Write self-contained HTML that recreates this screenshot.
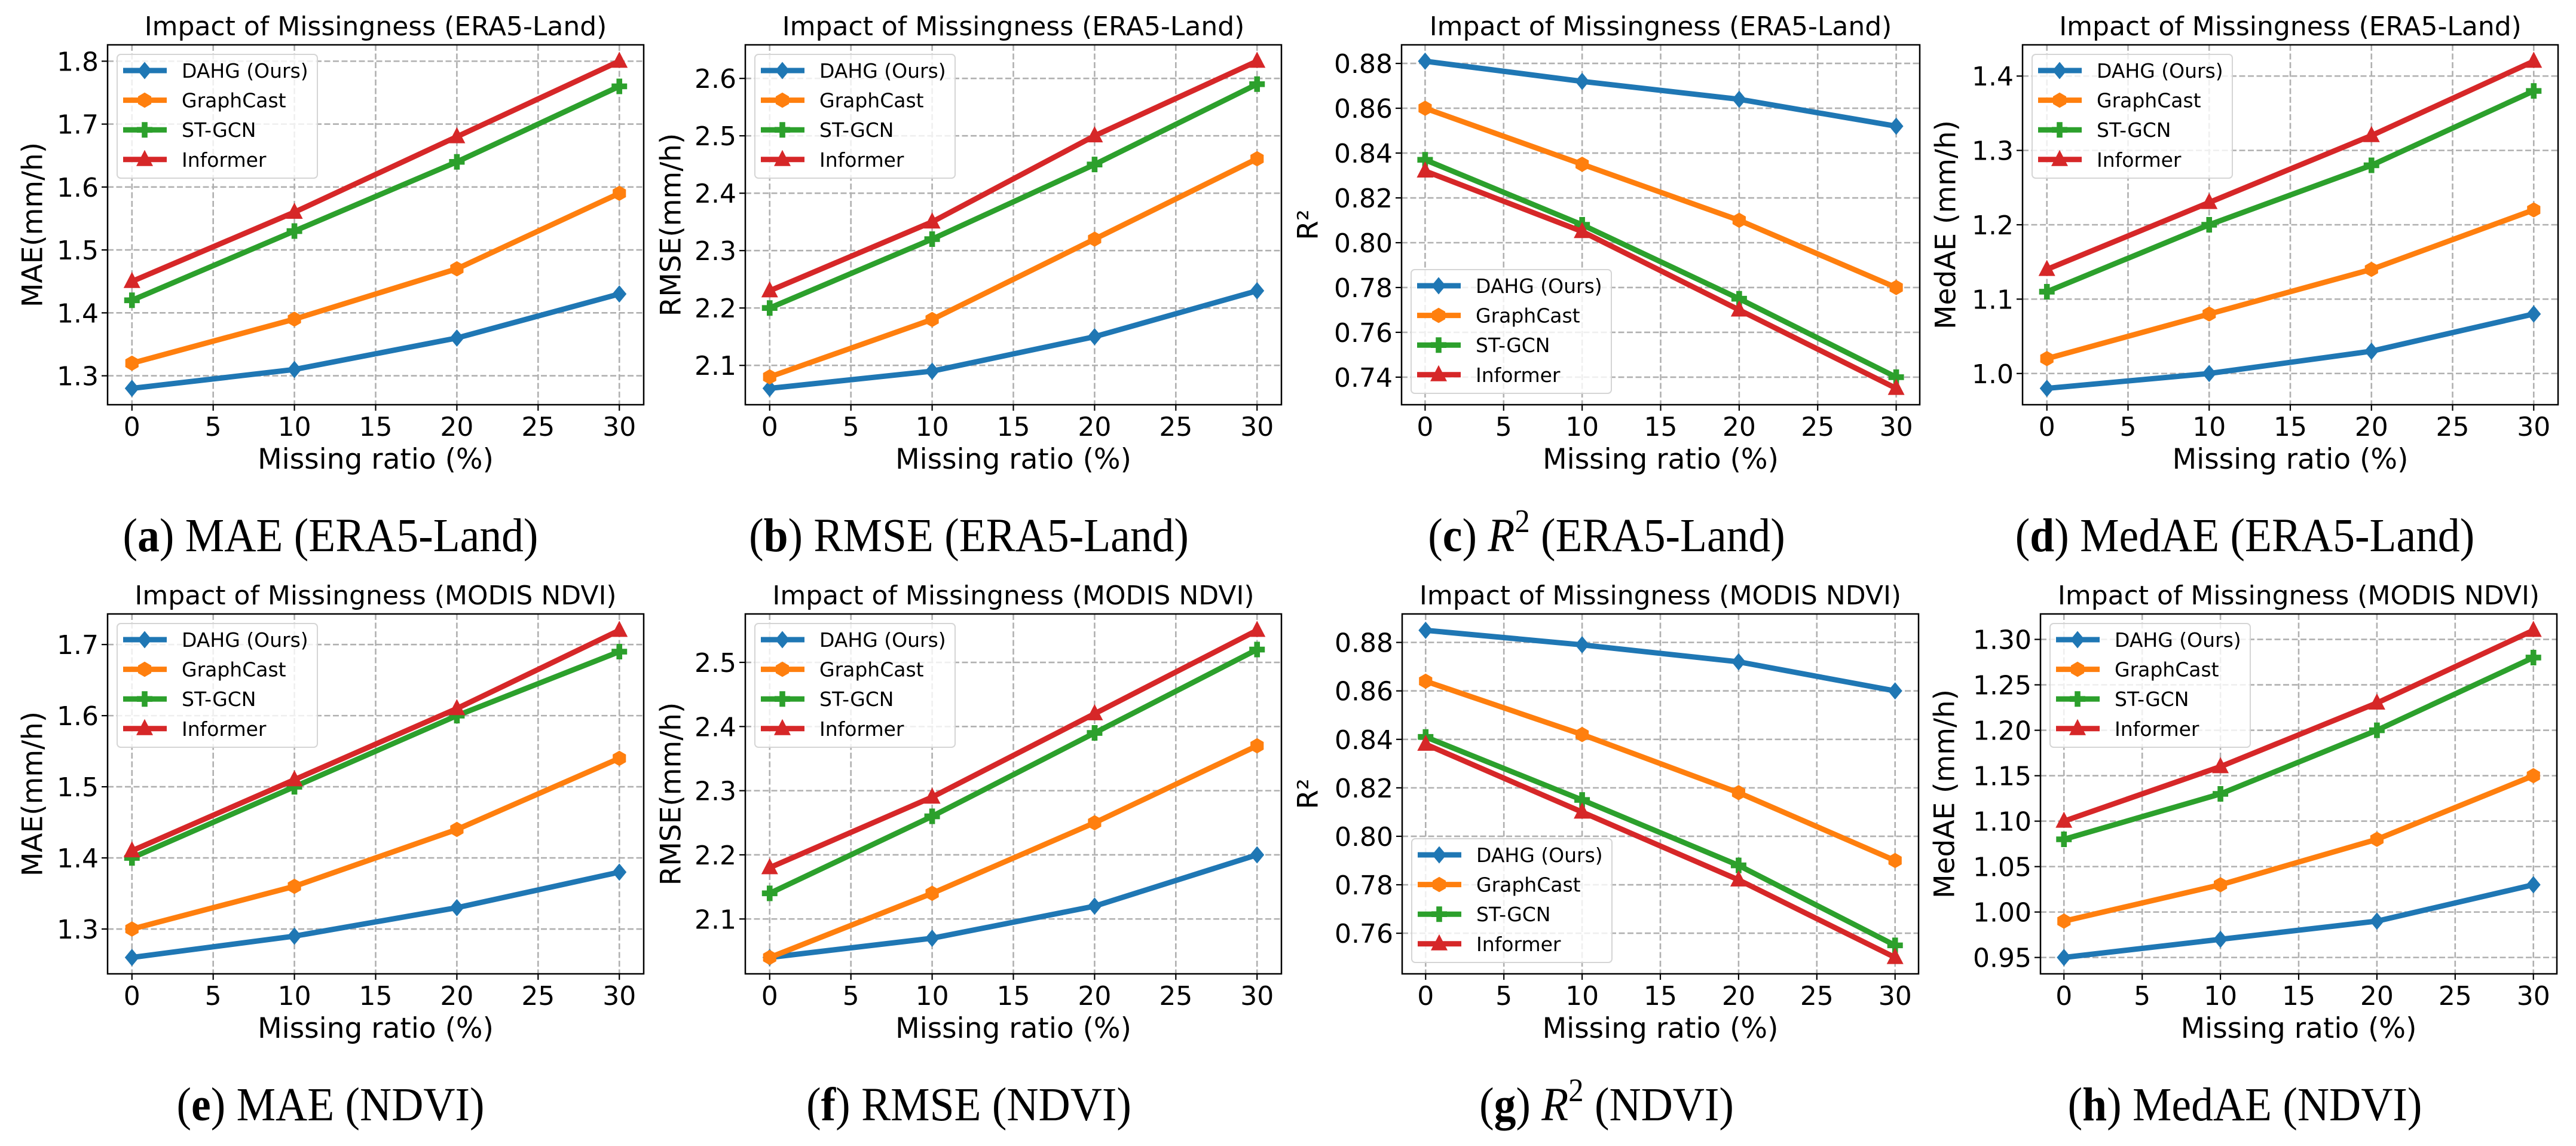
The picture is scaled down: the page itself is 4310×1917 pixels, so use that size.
<!DOCTYPE html>
<html><head><meta charset="utf-8">
<style>
html,body{margin:0;padding:0;background:#fff;}
svg{display:block;}
.t{font-family:"DejaVu Sans","Liberation Sans",sans-serif;fill:#000;}
.cap{font-family:"Liberation Serif","DejaVu Serif",serif;fill:#000;}
</style></head>
<body>
<svg id="fig" width="4310" height="1917" viewBox="0 0 4310 1917" xmlns="http://www.w3.org/2000/svg"></svg>
<script>
// ---- data ----
const xValues = [0, 10, 20, 30];
const xTicks = [0, 5, 10, 15, 20, 25, 30];
const seriesNames = ["DAHG (Ours)", "GraphCast", "ST-GCN", "Informer"];

const maeEraDahg = [1.28, 1.31, 1.36, 1.43];
const maeEraGraphCast = [1.32, 1.39, 1.47, 1.59];
const maeEraStgcn = [1.42, 1.53, 1.64, 1.76];
const maeEraInformer = [1.45, 1.56, 1.68, 1.80];
const maeEraTicks = [1.3, 1.4, 1.5, 1.6, 1.7, 1.8];

const rmseEraDahg = [2.06, 2.09, 2.15, 2.23];
const rmseEraGraphCast = [2.08, 2.18, 2.32, 2.46];
const rmseEraStgcn = [2.20, 2.32, 2.45, 2.59];
const rmseEraInformer = [2.23, 2.35, 2.50, 2.63];
const rmseEraTicks = [2.1, 2.2, 2.3, 2.4, 2.5, 2.6];

const r2EraDahg = [0.881, 0.872, 0.864, 0.852];
const r2EraGraphCast = [0.860, 0.835, 0.810, 0.780];
const r2EraStgcn = [0.837, 0.808, 0.775, 0.740];
const r2EraInformer = [0.832, 0.805, 0.770, 0.735];
const r2EraTicks = [0.74, 0.76, 0.78, 0.80, 0.82, 0.84, 0.86, 0.88];

const medEraDahg = [0.98, 1.00, 1.03, 1.08];
const medEraGraphCast = [1.02, 1.08, 1.14, 1.22];
const medEraStgcn = [1.11, 1.20, 1.28, 1.38];
const medEraInformer = [1.14, 1.23, 1.32, 1.42];
const medEraTicks = [1.0, 1.1, 1.2, 1.3, 1.4];

const maeNdviDahg = [1.26, 1.29, 1.33, 1.38];
const maeNdviGraphCast = [1.30, 1.36, 1.44, 1.54];
const maeNdviStgcn = [1.40, 1.50, 1.60, 1.69];
const maeNdviInformer = [1.41, 1.51, 1.61, 1.72];
const maeNdviTicks = [1.3, 1.4, 1.5, 1.6, 1.7];

const rmseNdviDahg = [2.04, 2.07, 2.12, 2.20];
const rmseNdviGraphCast = [2.04, 2.14, 2.25, 2.37];
const rmseNdviStgcn = [2.14, 2.26, 2.39, 2.52];
const rmseNdviInformer = [2.18, 2.29, 2.42, 2.55];
const rmseNdviTicks = [2.1, 2.2, 2.3, 2.4, 2.5];

const r2NdviDahg = [0.885, 0.879, 0.872, 0.860];
const r2NdviGraphCast = [0.864, 0.842, 0.818, 0.790];
const r2NdviStgcn = [0.841, 0.815, 0.788, 0.755];
const r2NdviInformer = [0.838, 0.810, 0.782, 0.750];
const r2NdviTicks = [0.76, 0.78, 0.80, 0.82, 0.84, 0.86, 0.88];

const medNdviDahg = [0.95, 0.97, 0.99, 1.03];
const medNdviGraphCast = [0.99, 1.03, 1.08, 1.15];
const medNdviStgcn = [1.08, 1.13, 1.20, 1.28];
const medNdviInformer = [1.10, 1.16, 1.23, 1.31];
const medNdviTicks = [0.95, 1.00, 1.05, 1.10, 1.15, 1.20, 1.25, 1.30];

// ---- layout (not data) ----
const colors = ["#1f77b4", "#ff7f0e", "#2ca02c", "#d62728"];
const markers = ["diamond", "hexagon", "plus", "triangle"];
const NS = "http://www.w3.org/2000/svg";
const svg = document.getElementById("fig");

const panels = [
 {id:"a", row:0, L:180, R:1077, ylab:"MAE(mm/h)", ylx:55, title:"Impact of Missingness (ERA5-Land)", series:[maeEraDahg,maeEraGraphCast,maeEraStgcn,maeEraInformer], ticks:maeEraTicks, dec:1, leg:"ul", cap:["a"," MAE (ERA5-Land)"], capx:553},
 {id:"b", row:0, L:1247, R:2144, ylab:"RMSE(mm/h)", ylx:1123, title:"Impact of Missingness (ERA5-Land)", series:[rmseEraDahg,rmseEraGraphCast,rmseEraStgcn,rmseEraInformer], ticks:rmseEraTicks, dec:1, leg:"ul", cap:["b"," RMSE (ERA5-Land)"], capx:1621},
 {id:"c", row:0, L:2345, R:3212, ylab:"R²", ylx:2189, title:"Impact of Missingness (ERA5-Land)", series:[r2EraDahg,r2EraGraphCast,r2EraStgcn,r2EraInformer], ticks:r2EraTicks, dec:2, leg:"ll", cap:["c","R2"," (ERA5-Land)"], capx:2688},
 {id:"d", row:0, L:3384, R:4280, ylab:"MedAE (mm/h)", ylx:3256, title:"Impact of Missingness (ERA5-Land)", series:[medEraDahg,medEraGraphCast,medEraStgcn,medEraInformer], ticks:medEraTicks, dec:1, leg:"ul", cap:["d"," MedAE (ERA5-Land)"], capx:3756},
 {id:"e", row:1, L:180, R:1077, ylab:"MAE(mm/h)", ylx:55, title:"Impact of Missingness (MODIS NDVI)", series:[maeNdviDahg,maeNdviGraphCast,maeNdviStgcn,maeNdviInformer], ticks:maeNdviTicks, dec:1, leg:"ul", cap:["e"," MAE (NDVI)"], capx:553},
 {id:"f", row:1, L:1247, R:2144, ylab:"RMSE(mm/h)", ylx:1123, title:"Impact of Missingness (MODIS NDVI)", series:[rmseNdviDahg,rmseNdviGraphCast,rmseNdviStgcn,rmseNdviInformer], ticks:rmseNdviTicks, dec:1, leg:"ul", cap:["f"," RMSE (NDVI)"], capx:1621},
 {id:"g", row:1, L:2346, R:3210, ylab:"R²", ylx:2189, title:"Impact of Missingness (MODIS NDVI)", series:[r2NdviDahg,r2NdviGraphCast,r2NdviStgcn,r2NdviInformer], ticks:r2NdviTicks, dec:2, leg:"ll", cap:["g","R2"," (NDVI)"], capx:2688},
 {id:"h", row:1, L:3414, R:4278, ylab:"MedAE (mm/h)", ylx:3254, title:"Impact of Missingness (MODIS NDVI)", series:[medNdviDahg,medNdviGraphCast,medNdviStgcn,medNdviInformer], ticks:medNdviTicks, dec:2, leg:"ul", cap:["h"," MedAE (NDVI)"], capx:3756}
];

function el(tag, attrs, parent){
  const e = document.createElementNS(NS, tag);
  for (const k in attrs) e.setAttribute(k, attrs[k]);
  (parent||svg).appendChild(e);
  return e;
}

function drawMarker(g, kind, cx, cy, color){
  let m;
  if (kind==="diamond"){
    m = el("polygon",{points:`${cx},${cy-14.5} ${cx+12},${cy} ${cx},${cy+14.5} ${cx-12},${cy}`, fill:color}, g);
  } else if (kind==="hexagon"){
    let p=[]; for(let i=0;i<6;i++){const a=Math.PI/6+i*Math.PI/3; p.push((cx+12.8*Math.cos(a))+","+(cy+12.8*Math.sin(a)));}
    m = el("polygon",{points:p.join(" "), fill:color}, g);
  } else if (kind==="plus"){
    const w=4.8, r=13;
    m = el("polygon",{points:`${cx-w},${cy-r} ${cx+w},${cy-r} ${cx+w},${cy-w} ${cx+r},${cy-w} ${cx+r},${cy+w} ${cx+w},${cy+w} ${cx+w},${cy+r} ${cx-w},${cy+r} ${cx-w},${cy+w} ${cx-r},${cy+w} ${cx-r},${cy-w} ${cx-w},${cy-w}`, fill:color}, g);
  } else {
    m = el("polygon",{points:`${cx},${cy-16} ${cx+14},${cy+11} ${cx-14},${cy+11}`, fill:color}, g);
  }
  return m;
}

panels.forEach(p=>{
  const off = p.row*952;
  const T = 75+off, B = 677+off;
  const g = el("g",{});
  
  

  let mn=Infinity,mx=-Infinity;
  p.series.forEach(s=>s.forEach(v=>{mn=Math.min(mn,v);mx=Math.max(mx,v);}));
  const pad=(mx-mn)*0.05; const y0=mn-pad, y1=mx+pad;
  const xs = v => p.L + (v+1.5)/33*(p.R-p.L);
  const ys = v => B - (v-y0)/(y1-y0)*(B-T);

  xTicks.forEach(t=>{
    const ln = el("line",{x1:xs(t),x2:xs(t),y1:T,y2:B,stroke:"#b0b0b0","stroke-width":2.6,"stroke-dasharray":"10,4.5"},g);
    
    
  });
  p.ticks.forEach(t=>{
    const ln = el("line",{x1:p.L,x2:p.R,y1:ys(t),y2:ys(t),stroke:"#b0b0b0","stroke-width":2.6,"stroke-dasharray":"10,4.5"},g);
    
    
  });

  p.series.forEach((s,i)=>{
    const pts = s.map((v,j)=>xs(xValues[j])+","+ys(v)).join(" ");
    const pl = el("polyline",{points:pts,fill:"none",stroke:colors[i],"stroke-width":9,"stroke-linejoin":"round"},g);
    
    
    s.forEach((v,j)=>{
      const m = drawMarker(g, markers[i], xs(xValues[j]), ys(v), colors[i]);
      
      
    });
  });

  const fr = el("rect",{x:p.L,y:T,width:p.R-p.L,height:B-T,fill:"none",stroke:"#000","stroke-width":2.5},g);
  
  

  xTicks.forEach(t=>{
    el("line",{x1:xs(t),x2:xs(t),y1:B,y2:B+10,stroke:"#000","stroke-width":2.2},g);
    const tx = el("text",{x:xs(t),y:B+52,"text-anchor":"middle","font-size":44,class:"t"},g);
    tx.textContent = String(t);
    
    
  });
  p.ticks.forEach(t=>{
    el("line",{x1:p.L-10,x2:p.L,y1:ys(t),y2:ys(t),stroke:"#000","stroke-width":2.2},g);
    const tx = el("text",{x:p.L-15,y:ys(t)+16,"text-anchor":"end","font-size":44,class:"t"},g);
    tx.textContent = t.toFixed(p.dec);
    
    
  });

  const ti = el("text",{x:(p.L+p.R)/2,y:59+off,"text-anchor":"middle","font-size":44,class:"t"},g);
  ti.textContent = p.title;
  
  
  const xl = el("text",{x:(p.L+p.R)/2,y:784+off,"text-anchor":"middle","font-size":47,class:"t"},g);
  xl.textContent = "Missing ratio (%)";
  
  
  const cy=(T+B)/2;
  const yl = el("text",{x:p.ylx,y:cy,"text-anchor":"middle","dominant-baseline":"central","font-size":47,class:"t",transform:`rotate(-90 ${p.ylx} ${cy})`},g);
  yl.textContent = p.ylab;
  
  

  const lx = p.L+16, lw=335, lh=207;
  const ly = p.leg==="ul" ? T+16 : B-19-lh;
  const lg = el("g",{},g);
  
  
  el("rect",{x:lx,y:ly,width:lw,height:lh,rx:6,fill:"#fff","fill-opacity":0.8,stroke:"#d5d5d5","stroke-width":2},lg);
  seriesNames.forEach((n,i)=>{
    const ey = ly+27+i*49.6;
    el("line",{x1:lx+10,x2:lx+83,y1:ey,y2:ey,stroke:colors[i],"stroke-width":9},lg);
    drawMarker(lg, markers[i], lx+46, ey, colors[i]);
    const lt = el("text",{x:lx+108,y:ey+12,"font-size":33,class:"t"},lg);
    lt.textContent = n;
    
    
  });

  const ct = el("text",{x:0,y:0,"text-anchor":"middle","font-size":80,class:"cap",transform:`translate(${p.capx} ${922+off}) scale(0.92 1)`},g);
  
  
  el("tspan",{},ct).textContent="(";
  el("tspan",{"font-weight":"bold"},ct).textContent=p.cap[0];
  el("tspan",{},ct).textContent=") ";
  if (p.cap.length===3){
    el("tspan",{"font-style":"italic"},ct).textContent="R";
    el("tspan",{"font-size":55,dy:-32},ct).textContent="2";
    el("tspan",{dy:32},ct).textContent=p.cap[2];
  } else {
    el("tspan",{},ct).textContent=p.cap[1].trim();
  }
});
</script>
</body></html>
